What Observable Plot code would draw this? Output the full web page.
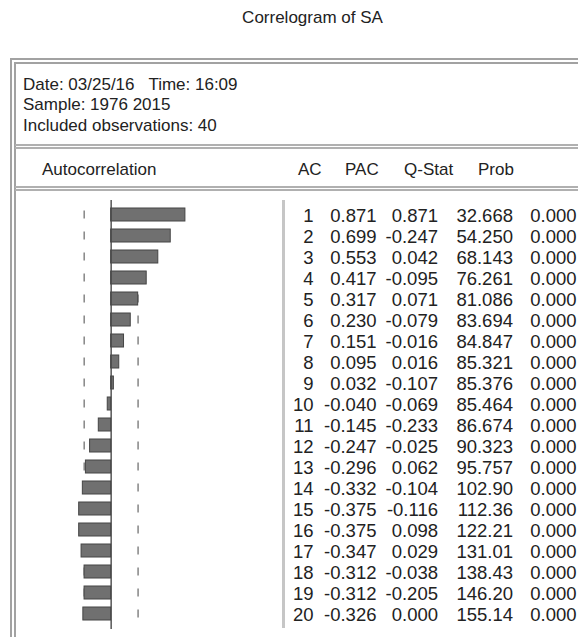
<!DOCTYPE html>
<html>
<head>
<meta charset="utf-8">
<script src="https://cdn.jsdelivr.net/npm/d3@7"></script>
<script src="https://cdn.jsdelivr.net/npm/@observablehq/plot@0.6"></script>
<style>
  html, body { margin: 0; padding: 0; background: #fff; }
  #wrap { position: relative; width: 578px; height: 637px; overflow: hidden; font-family: "Liberation Sans", Arial, sans-serif; color: #222; }
  .t { position: absolute; font-size: 17px; line-height: 20px; white-space: pre; }
  #box { position: absolute; left: 10px; top: 58px; width: 640px; height: 574px; border: 6px double #a2a2a2; box-sizing: content-box; background: #fff; }
  .sep { position: absolute; left: 15px; width: 600px; height: 1px; border-top: 2px solid #b0b0b0; border-bottom: 2px solid #b0b0b0; }
  #vsep { position: absolute; left: 282px; top: 200px; width: 3px; height: 428px; background: #c6c6c6; }
  #chart { position: absolute; left: 0; top: 0; }
</style>
</head>
<body>
<div id="wrap">
  <div class="t" style="left:0;width:625px;text-align:center;top:8px;">Correlogram of SA</div>
  <div id="box"></div>
  <div class="sep" style="top:144px;"></div>
  <div class="sep" style="top:186px;"></div>
  <div class="t" style="left:23px;top:75px;">Date: 03/25/16   Time: 16:09</div>
  <div class="t" style="left:23px;top:95px;">Sample: 1976 2015</div>
  <div class="t" style="left:23px;top:116px;">Included observations: 40</div>
  <div class="t" style="left:42px;top:160px;">Autocorrelation</div>
  <div class="t" style="left:298px;top:160px;">AC</div>
  <div class="t" style="left:345px;top:160px;">PAC</div>
  <div class="t" style="left:404px;top:160px;">Q-Stat</div>
  <div class="t" style="left:478px;top:160px;">Prob</div>
  <div id="chart"></div>
  <div id="vsep"></div>
</div>
<script>
const lags  = [1, 2, 3, 4, 5, 6, 7, 8, 9, 10, 11, 12, 13, 14, 15, 16, 17, 18, 19, 20];
const ac    = [0.871, 0.699, 0.553, 0.417, 0.317, 0.230, 0.151, 0.095, 0.032, -0.040,
               -0.145, -0.247, -0.296, -0.332, -0.375, -0.375, -0.347, -0.312, -0.312, -0.326];
const pac   = [0.871, -0.247, 0.042, -0.095, 0.071, -0.079, -0.016, 0.016, -0.107, -0.069,
               -0.233, -0.025, 0.062, -0.104, -0.116, 0.098, 0.029, -0.038, -0.205, 0.000];
const qstat = [32.668, 54.250, 68.143, 76.261, 81.086, 83.694, 84.847, 85.321, 85.376, 85.464,
               86.674, 90.323, 95.757, 102.90, 112.36, 122.21, 131.01, 138.43, 146.20, 155.14];
const prob  = [0, 0, 0, 0, 0, 0, 0, 0, 0, 0, 0, 0, 0, 0, 0, 0, 0, 0, 0, 0];
const bound = 0.316;

const rows = lags.map((lag, i) => ({lag, ac: ac[i], pac: pac[i], q: qstat[i], p: prob[i]}));
const bounds = lags.flatMap(lag => [{lag, b: -bound}, {lag, b: bound}]);

const numStyle = {frameAnchor: "left", y: "lag", textAnchor: "end", fontSize: 18.5, dy: 1.5, fill: "#222"};

const chart = Plot.plot({
  width: 578,
  height: 637,
  marginTop: 200,
  marginBottom: 8,
  marginLeft: 0,
  marginRight: 0,
  x: {domain: [-1, 1], range: [25.4, 195.9], axis: null},
  y: {type: "band", domain: lags, range: [199.8, 628.8], paddingInner: 0.4, paddingOuter: 0.2, axis: null},
  style: {background: "transparent", fontFamily: "'Liberation Sans', Arial, sans-serif", color: "#222"},
  marks: [
    Plot.tickX(bounds, {x: "b", y: "lag", stroke: "#8c8c8c", strokeWidth: 1.6, insetTop: 2.5, insetBottom: 2.5}),
    Plot.barX(rows, {x: "ac", y: "lag", fill: "#707070", stroke: "#454545", strokeWidth: 1}),
    Plot.ruleX([0], {stroke: "#4a4a4a", strokeWidth: 1.4}),
    Plot.text(rows, {...numStyle, text: d => String(d.lag), dx: 313}),
    Plot.text(rows, {...numStyle, text: d => d.ac.toFixed(3), dx: 376}),
    Plot.text(rows, {...numStyle, text: d => d.pac.toFixed(3), dx: 437.5}),
    Plot.text(rows, {...numStyle, text: d => d.q.toPrecision(5), dx: 512.5}),
    Plot.text(rows, {...numStyle, text: d => d.p.toFixed(3), dx: 576})
  ]
});
document.getElementById("chart").appendChild(chart);
</script>
</body>
</html>
